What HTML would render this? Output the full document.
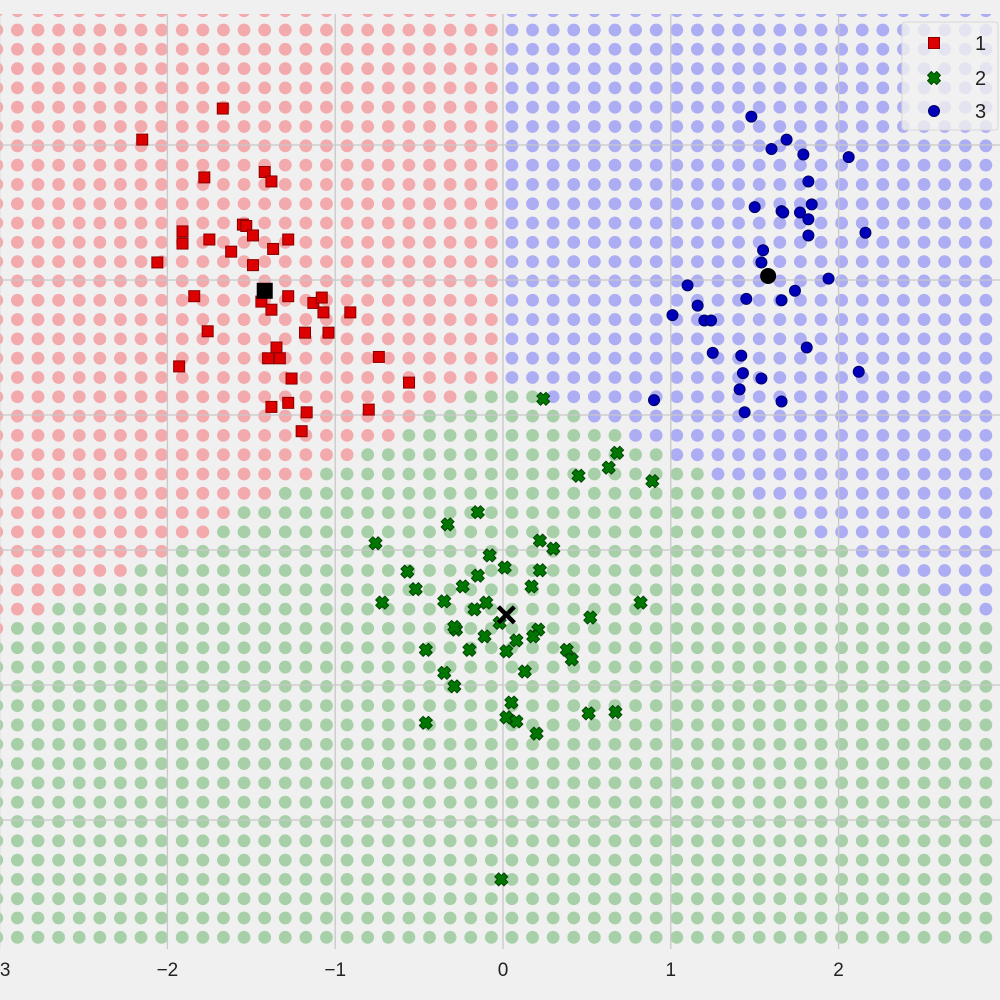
<!DOCTYPE html>
<html><head><meta charset="utf-8"><style>
html,body{margin:0;padding:0;background:#f0f0f0;}
svg{display:block;font-family:"Liberation Sans","DejaVu Sans",sans-serif;}
</style></head><body>
<svg id="chart" width="1000" height="1000" viewBox="0 0 1000 1000" xmlns="http://www.w3.org/2000/svg">
<defs><clipPath id="plotclip"><rect x="0" y="14" width="1000" height="935"/></clipPath></defs>
<rect x="0" y="0" width="1000" height="1000" fill="#f0f0f0"/>
<g id="regions" clip-path="url(#plotclip)"></g>
<g id="grid"></g>
<g id="points" clip-path="url(#plotclip)"></g>
<g id="ticks"></g>
<g id="legend"></g>
</svg>
<script>
const xTicks = [-3, -2, -1, 0, 1, 2];
const xTickLabels = ["\u22123", "\u22122", "\u22121", "0", "1", "2"];
const yGrid = [2, 1, 0, -1, -2, -3];
const redX = [-2.15,-1.67,-1.78,-1.42,-1.38,-1.91,-1.91,-1.75,-1.55,-1.53,-1.49,-1.28,-1.37,-1.62,-1.49,-2.06,-1.84,-1.44,-1.38,-1.28,-1.13,-1.08,-1.07,-0.91,-1.76,-1.18,-1.04,-1.35,-1.40,-1.33,-1.93,-0.74,-1.26,-0.56,-1.38,-1.28,-1.17,-0.80,-1.20];
const redY = [2.04,2.27,1.76,1.80,1.73,1.36,1.27,1.30,1.41,1.40,1.33,1.30,1.23,1.21,1.11,1.13,0.88,0.84,0.78,0.88,0.83,0.87,0.76,0.76,0.62,0.61,0.61,0.50,0.42,0.42,0.36,0.43,0.27,0.24,0.06,0.09,0.02,0.04,-0.12];
const blueX = [1.48,1.69,1.60,1.79,2.06,1.82,1.50,1.66,1.67,1.77,1.84,1.82,1.82,2.16,1.55,1.54,1.94,1.10,1.74,1.45,1.66,1.16,1.01,1.20,1.24,1.81,1.25,1.42,2.12,1.43,1.54,1.41,0.90,1.66,1.44];
const blueY = [2.21,2.04,1.97,1.93,1.91,1.73,1.54,1.51,1.50,1.50,1.56,1.45,1.33,1.35,1.22,1.13,1.01,0.96,0.92,0.86,0.85,0.81,0.74,0.70,0.70,0.50,0.46,0.44,0.32,0.31,0.27,0.19,0.11,0.10,0.02];
const greenX = [0.68,0.63,0.45,0.89,-0.15,-0.33,-0.76,0.22,0.30,-0.08,0.01,0.22,-0.57,-0.15,-0.24,0.17,-0.52,-0.35,-0.72,-0.10,-0.17,0.82,0.52,-0.28,-0.29,-0.02,0.21,0.18,-0.11,0.08,-0.46,-0.20,0.02,0.38,0.41,0.13,-0.35,-0.29,0.05,0.02,0.08,0.51,0.67,-0.46,0.20,0.24,-0.01];
const greenY = [-0.28,-0.39,-0.45,-0.49,-0.72,-0.81,-0.95,-0.93,-0.99,-1.04,-1.13,-1.15,-1.16,-1.19,-1.27,-1.27,-1.29,-1.38,-1.39,-1.39,-1.44,-1.39,-1.50,-1.59,-1.57,-1.54,-1.59,-1.64,-1.64,-1.67,-1.74,-1.74,-1.75,-1.74,-1.81,-1.90,-1.91,-2.01,-2.13,-2.24,-2.27,-2.21,-2.20,-2.28,-2.36,0.12,-3.44];
const centroidX = [-1.42, 0.02, 1.58];
const centroidY = [0.92, -1.48, 1.03];
const clusterNames = ["1", "2", "3"];
// decision boundary lines (data units): [x0, y0, slope]
const redGreenBoundary = [-0.197, 0.148, 0.638];
const blueGreenBoundary = [0.24, 0.148, -0.617];
const redBlueBoundaryX = [0.0];

const NS = "http://www.w3.org/2000/svg";
const sx = v => 503 + v * 167.8;
const sy = v => 415 - v * 135;
function mk(tag, attrs, parent){const e=document.createElementNS(NS,tag);for(const k in attrs)e.setAttribute(k,attrs[k]);parent.appendChild(e);return e;}
const regions=document.getElementById('regions'), grid=document.getElementById('grid'), pts=document.getElementById('points'), ticks=document.getElementById('ticks'), legend=document.getElementById('legend');
const bgCols=["#f3aaad","#a8d0a8","#adadf3"];
const ptCols=["#dd0000","#007700","#0000bb"];
const edgeCols=["#880000","#004400","#000066"];
const names=["red","green","blue"];
function classify(x,y){
  if(x < redBlueBoundaryX[0]){
    const yb = redGreenBoundary[1] + (x-redGreenBoundary[0])*redGreenBoundary[2];
    return y > yb ? 0 : 1;
  } else {
    const yb = blueGreenBoundary[1] + (x-blueGreenBoundary[0])*blueGreenBoundary[2];
    return y > yb ? 2 : 1;
  }
}
for(let i=-1;i<48;i++){
  const dx=-2.894+i*0.1228;
  for(let j=-1;j<48;j++){
    const dy=2.852-j*0.143;
    const best=classify(dx,dy);
    const e=mk('circle',{cx:sx(dx),cy:sy(dy),r:6.4,fill:bgCols[best]},regions);
    
    
  }
}
xTicks.forEach(t=>{
  const l=mk('line',{x1:sx(t),x2:sx(t),y1:14,y2:949,stroke:'#c8c8c8','stroke-width':1.3},grid);
  
  
});
yGrid.forEach(t=>{
  const l=mk('line',{x1:0,x2:1000,y1:sy(t),y2:sy(t),stroke:'#c8c8c8','stroke-width':1.3},grid);
  
  
});
xTicks.forEach((t,i)=>{
  const tx=mk('text',{x:sx(t),y:976,'text-anchor':'middle','font-size':19,fill:'#222'},ticks);
  tx.textContent=xTickLabels[i];
  
  
});
function square(x,y,s,fill,stroke,parent){return mk('rect',{x:x-s/2,y:y-s/2,width:s,height:s,fill:fill,stroke:stroke,'stroke-width':1},parent);}
function xmark(x,y,s,fill,stroke,parent){
  const a=s/2,b=s/3.4;
  const p=`M${x-a},${y-a+b} L${x-a+b},${y-a} L${x},${y-b} L${x+a-b},${y-a} L${x+a},${y-a+b} L${x+b},${y} L${x+a},${y+a-b} L${x+a-b},${y+a} L${x},${y+b} L${x-a+b},${y+a} L${x-a},${y+a-b} L${x-b},${y} Z`;
  return mk('path',{d:p,fill:fill,stroke:stroke,'stroke-width':1,'stroke-linejoin':'round'},parent);
}
redX.forEach((v,i)=>{
  const e=square(sx(v),sy(redY[i]),11,ptCols[0],edgeCols[0],pts);
  
  
});
greenX.forEach((v,i)=>{
  const e=xmark(sx(v),sy(greenY[i]),13,ptCols[1],edgeCols[1],pts);
  
  
});
blueX.forEach((v,i)=>{
  const e=mk('circle',{cx:sx(v),cy:sy(blueY[i]),r:5.5,fill:ptCols[2],stroke:edgeCols[2],'stroke-width':1},pts);
  
  
});
let c0=square(sx(centroidX[0]),sy(centroidY[0]),15,'#000','#000',pts);


let c1=mk('path',{d:`M${sx(centroidX[1])-8},${sy(centroidY[1])-8} L${sx(centroidX[1])+8},${sy(centroidY[1])+8} M${sx(centroidX[1])+8},${sy(centroidY[1])-8} L${sx(centroidX[1])-8},${sy(centroidY[1])+8}`,stroke:'#000','stroke-width':4.5},pts);


let c2=mk('circle',{cx:sx(centroidX[2]),cy:sy(centroidY[2]),r:8,fill:'#000'},pts);


const lb=mk('rect',{x:902,y:22,width:96,height:108,rx:3,fill:'#f0f0f0','fill-opacity':0.82,stroke:'#d8d8d8','stroke-width':1},legend);


const ly=[43,78,111];
clusterNames.forEach((n,i)=>{
  const g=mk('g',{},legend);
  
  
  let m;
  if(i===0) m=square(934,ly[i],11,ptCols[0],edgeCols[0],g);
  else if(i===1) m=xmark(934,ly[i],13,ptCols[1],edgeCols[1],g);
  else m=mk('circle',{cx:934,cy:ly[i],r:5.5,fill:ptCols[2],stroke:edgeCols[2]},g);
  
  
  const t=mk('text',{x:975,y:ly[i]+7,'font-size':20,fill:'#222'},g);
  t.textContent=n;
  
  
});
</script>
</body></html>
